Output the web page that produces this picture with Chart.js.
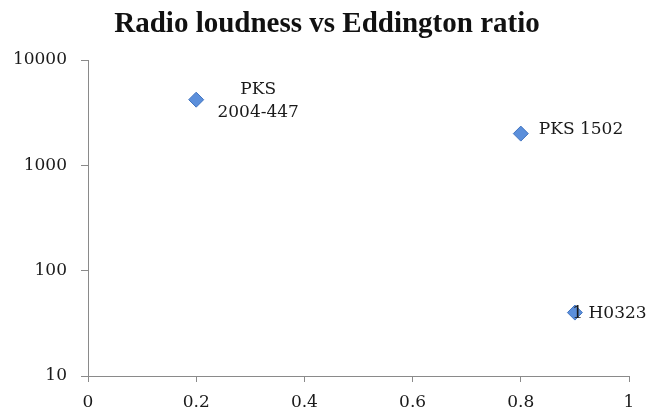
<!DOCTYPE html>
<html><head><meta charset="utf-8">
<script src="https://cdn.jsdelivr.net/npm/chart.js@4"></script>
<style>html,body{margin:0;padding:0;background:#fff}#wrap{width:649px;height:411px;position:relative}</style>
</head><body><div id="wrap"><canvas id="c"></canvas></div>
<script>
// ---- data ----
const pointNames = ['PKS\n2004-447', 'PKS 1502', '1 H0323'];
const eddingtonRatio = [0.2, 0.8, 0.9];
const radioLoudness = [4200, 2000, 40];
const yTickValues = [10, 100, 1000, 10000];
const xTickStep = 0.2;
const chartTitle = 'Radio loudness vs Eddington ratio';

const axisColor = '#8a8a8a';
const textColor = '#1a1a1a';
const tickFont = {family: 'DejaVu Serif', size: 17};

const labelPlugin = {
  id: 'pointLabels',
  afterDatasetsDraw(chart, args, opts) {
    const ctx = chart.ctx;
    const meta = chart.getDatasetMeta(0);
    ctx.save();
    ctx.font = opts.font;
    ctx.fillStyle = opts.color;
    ctx.textBaseline = 'middle';
    meta.data.forEach((pt, i) => {
      const o = opts.offsets[i];
      ctx.textAlign = o.align;
      pointNames[i].split('\n').forEach((ln, j) => {
        ctx.fillText(ln, pt.x + o.dx, pt.y + o.dy + j * opts.lineHeight);
      });
    });
    ctx.restore();
  }
};

new Chart(document.getElementById('c'), {
  type: 'scatter',
  data: {
    datasets: [{
      data: eddingtonRatio.map((x, i) => ({x: x, y: radioLoudness[i]})),
      pointStyle: 'rectRot',
      pointRadius: 7.5,
      pointHoverRadius: 7.5,
      backgroundColor: '#5b8fdb',
      borderColor: '#4274c0',
      borderWidth: 1
    }]
  },
  options: {
    responsive: true,
    maintainAspectRatio: false,
    animation: false,
    layout: {padding: {left: 5, right: 0, top: 0, bottom: 0}},
    plugins: {
      legend: {display: false},
      tooltip: {enabled: false},
      title: {
        display: true,
        text: chartTitle,
        color: '#111',
        font: {family: 'Liberation Serif', size: 29, weight: 'bold', lineHeight: 1},
        padding: {top: 10.4, bottom: 20.6}
      },
      pointLabels: {
        font: '17px "DejaVu Serif"',
        color: textColor,
        lineHeight: 22.7,
        offsets: [
          {dx: 62, dy: -10, align: 'center'},
          {dx: 18, dy: -4.5, align: 'left'},
          {dx: -2.6, dy: 1, align: 'left'}
        ]
      }
    },
    scales: {
      x: {
        type: 'linear',
        min: 0, max: 1,
        afterFit(s) { s.height = 35; },
        ticks: {stepSize: xTickStep, font: tickFont, color: textColor, padding: 10, maxRotation: 0,
                callback: v => String(Number(v.toFixed(2)))},
        grid: {drawOnChartArea: false, drawTicks: true, tickLength: 6, color: axisColor},
        border: {display: true, color: axisColor, width: 1}
      },
      y: {
        type: 'logarithmic',
        min: 10, max: 10000,
        afterBuildTicks(s) { s.ticks = yTickValues.map(v => ({value: v})); },
        afterFit(s) { s.width = 83; },
        ticks: {callback: v => String(v), font: tickFont, color: textColor, padding: 14},
        grid: {drawOnChartArea: false, drawTicks: true, tickLength: 7, color: axisColor},
        border: {display: true, color: axisColor, width: 1}
      },
      spacer: {
        type: 'linear',
        position: 'right',
        axis: 'y',
        display: true,
        afterFit(s) { s.width = 20; },
        ticks: {display: false},
        grid: {display: false, drawTicks: false},
        border: {display: false}
      }
    }
  },
  plugins: [labelPlugin]
});
</script>
</body></html>
